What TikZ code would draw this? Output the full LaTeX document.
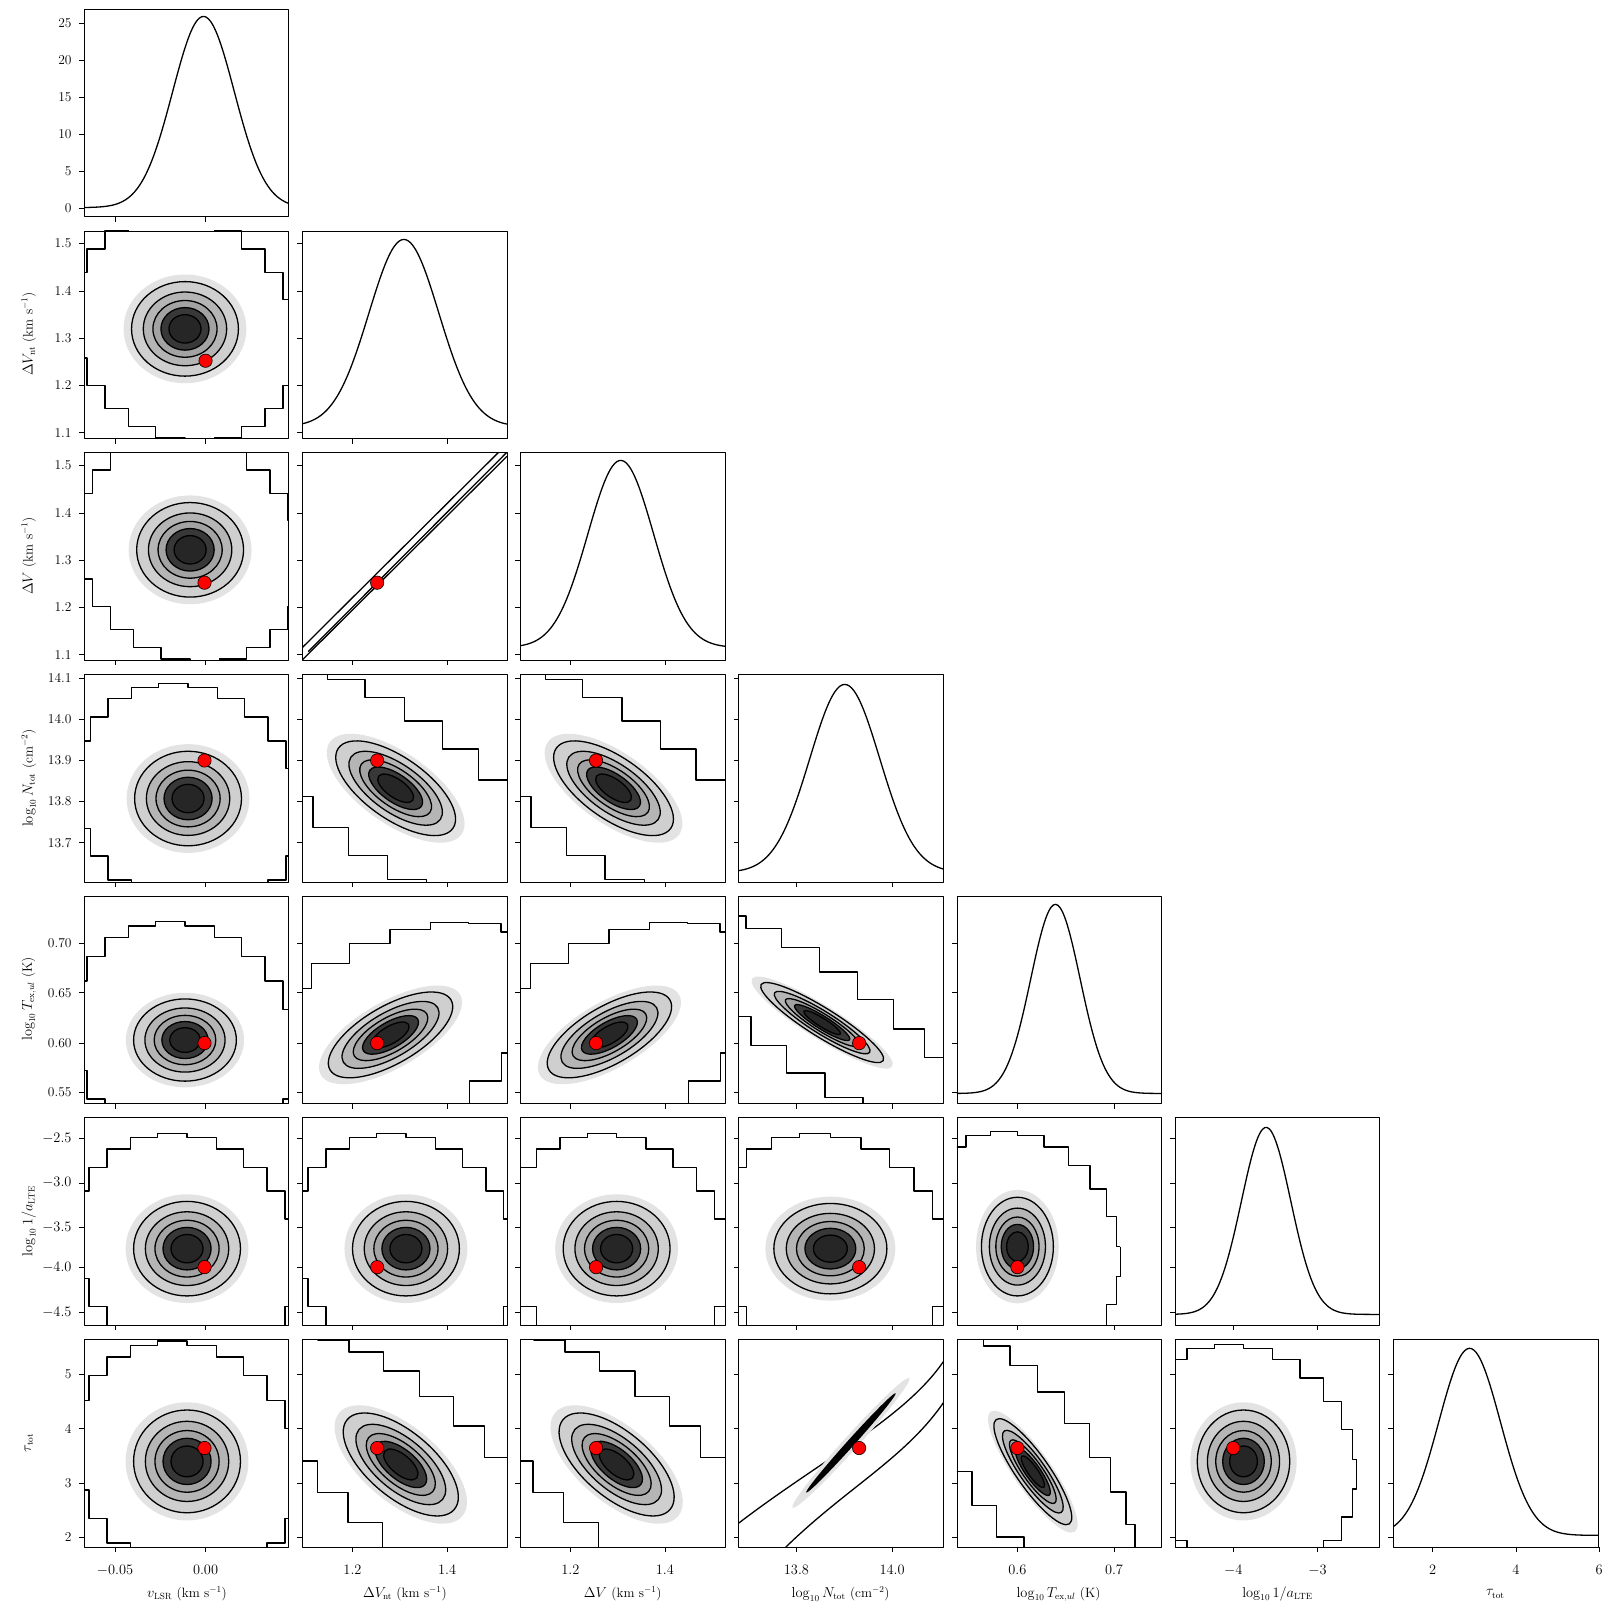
\documentclass[tikz,border=0pt]{standalone}
\begin{document}
\begin{tikzpicture}[x=1pt,y=-1pt,scale=1.0277,line join=round]
\tikzset{cline/.style={black,line width=1.3pt},lab/.style={font=\fontsize{13.5}{16}\selectfont}}
\newcommand\blob[5]{%
\begin{scope}[shift={(#1,#2)},rotate={-#5}]
\fill[gray!22] (0,0) ellipse[x radius={1.15*#3 pt},y radius={1.15*#4 pt}];
\filldraw[cline,fill=gray!38] (0,0) ellipse[x radius={#3 pt},y radius={#4 pt}];
\filldraw[cline,fill=gray!58] (0,0) ellipse[x radius={0.78*#3 pt},y radius={0.78*#4 pt}];
\filldraw[cline,fill=gray!72] (0,0) ellipse[x radius={0.6*#3 pt},y radius={0.6*#4 pt}];
\filldraw[cline,fill=black!78] (0,0) ellipse[x radius={0.45*#3 pt},y radius={0.45*#4 pt}];
\filldraw[cline,fill=black!85] (0,0) ellipse[x radius={0.3*#3 pt},y radius={0.3*#4 pt}];
\end{scope}}
\newcommand\stair[7]{%
\pgfmathsetmacro\xl{82+212.3*#1}\pgfmathsetmacro\yt{9+215.7*#2}
\begin{scope}
\clip (\xl,\yt) rectangle ++(199,202);
\draw[cline] ({#3+#5*cos(#7)},{#4+#5*sin(#7)}) \foreach \a in {15,30,...,360}{ |- ({#3+#5*cos(\a)*cos(#7)-#6*sin(\a)*sin(#7)},{#4+#5*cos(\a)*sin(#7)+#6*sin(\a)*cos(#7)}) };
\end{scope}}
\newcommand\hist[5]{%
\draw[cline] plot[domain=#5:#5+199,samples=90,smooth] (\x,{#2-#3*exp(-0.5*((\x-#1)/#4)^2)});}
\newcommand\dotr[2]{\filldraw[fill=red,draw=black,line width=0.6pt] (#1,#2) circle[radius=6.5pt];}
% frames
\foreach \j in {0,...,6}{\foreach \i in {0,...,\j}{
 \pgfmathsetmacro\xl{82+212.3*\i}\pgfmathsetmacro\yt{9+215.7*\j}
 \draw[line width=0.7pt] (\xl,\yt) rectangle ++(199,202);}}
% column ticks
\foreach \c/\xs in {0/{112,200},1/{343,435},2/{555,647},3/{775,868},4/{990,1084},5/{1200,1282},6/{1394,1475,1556}}{
 \foreach \j in {\c,...,6}{\pgfmathsetmacro\yb{211+215.7*\j}
 \foreach \x in \xs {\draw[line width=0.6pt] (\x,\yb) -- ++(0,5);}}}
% row ticks
\foreach \r/\ys in {0/{23,59,95,131,167,203},1/{237,283,329,375,421},2/{453,499,545,591,637},3/{660,700,740,780,820},4/{918,966,1015,1063},5/{1108,1151,1194,1233,1277},6/{1337,1390,1443,1496}}{
 \foreach \i in {0,...,\r}{\pgfmathsetmacro\xl{82+212.3*\i}
 \foreach \y in \ys {\draw[line width=0.6pt] (\xl,\y) -- ++(-5,0);}}}
% tick labels
\foreach \x/\t in {112/$-0.05$,200/$0.00$,343/$1.2$,435/$1.4$,555/$1.2$,647/$1.4$,775/$13.8$,868/$14.0$,990/$0.6$,1084/$0.7$,1200/$-4$,1282/$-3$,1394/$2$,1475/$4$,1556/$6$}
 \node[lab] at (\x,1528) {\t};
\foreach \y/\t in {23/25,59/20,95/15,131/10,167/5,203/0,237/1.5,283/1.4,329/1.3,375/1.2,421/1.1,453/1.5,499/1.4,545/1.3,591/1.2,637/1.1,660/14.1,700/14.0,740/13.9,780/13.8,820/13.7,918/0.70,966/0.65,1015/0.60,1063/0.55,1108/$-2.5$,1151/$-3.0$,1194/$-3.5$,1233/$-4.0$,1277/$-4.5$,1337/5,1390/4,1443/3,1496/2}
 \node[lab,anchor=east] at (73,\y) {\t};
% axis labels
\foreach \x/\t in {182/{$v_{\rm LSR}$ (km s$^{-1}$)},394/{$\Delta V_{\rm nt}$ (km s$^{-1}$)},606/{$\Delta V$ (km s$^{-1}$)},818/{$\log_{10} N_{\rm tot}$ (cm$^{-2}$)},1030/{$\log_{10} T_{{\rm ex},ul}$ (K)},1243/{$\log_{10} 1/a_{\rm LTE}$},1455/{$\tau_{\rm tot}$}}
 \node[lab] at (\x,1551) {\t};
\foreach \y/\t in {325/{$\Delta V_{\rm nt}$ (km s$^{-1}$)},541/{$\Delta V$ (km s$^{-1}$)},757/{$\log_{10} N_{\rm tot}$ (cm$^{-2}$)},972/{$\log_{10} T_{{\rm ex},ul}$ (K)},1188/{$\log_{10} 1/a_{\rm LTE}$},1404/{$\tau_{\rm tot}$}}
 \node[lab,rotate=90] at (28,\y) {\t};
% histograms
\hist{198}{202}{186}{30}{82}
\hist{393}{415}{182}{34}{294.3}
\hist{604}{630}{182}{32}{506.6}
\hist{822}{849}{183}{34}{718.9}
\hist{1027}{1064}{184}{24}{931.2}
\hist{1232}{1279}{182}{24}{1143.5}
\hist{1430}{1494}{182}{30}{1355.8}
% stairs
\stair{0}{1}{180}{320}{110}{110}{0}
\stair{0}{2}{185}{535}{110}{110}{0}
\stair{0}{3}{183}{777}{110}{112}{0}
\stair{1}{3}{385}{767}{170}{80}{35}
\stair{2}{3}{597}{767}{170}{80}{35}
\stair{0}{4}{180}{1012}{110}{115}{0}
\stair{1}{4}{380}{1007}{170}{80}{-30}
\stair{2}{4}{593}{1007}{170}{80}{-30}
\stair{3}{4}{800}{995}{170}{60}{35}
\stair{0}{5}{182}{1215}{110}{112}{0}
\stair{1}{5}{395}{1215}{110}{112}{0}
\stair{2}{5}{600}{1215}{110}{112}{0}
\stair{3}{5}{808}{1215}{115}{112}{0}
\stair{4}{5}{990}{1213}{100}{112}{0}
\stair{0}{6}{182}{1420}{110}{115}{0}
\stair{1}{6}{390}{1420}{160}{80}{40}
\stair{2}{6}{600}{1420}{160}{80}{40}
\stair{4}{6}{1003}{1425}{150}{70}{55}
\stair{5}{6}{1210}{1420}{110}{112}{0}
% blobs
\blob{180}{320}{52}{46}{0}
\blob{185}{535}{52}{46}{0}
\blob{183}{777}{52}{46}{0}
\blob{385}{767}{68}{30}{35}
\blob{597}{767}{68}{30}{35}
\blob{180}{1012}{50}{40}{0}
\blob{380}{1007}{68}{28}{-30}
\blob{593}{1007}{68}{28}{-30}
\blob{800}{995}{70}{14}{32}
\blob{182}{1215}{52}{46}{0}
\blob{395}{1215}{52}{46}{0}
\blob{600}{1215}{52}{46}{0}
\blob{808}{1215}{55}{44}{0}
\blob{990}{1213}{35}{48}{0}
\blob{182}{1422}{52}{50}{0}
\blob{390}{1425}{68}{32}{40}
\blob{600}{1425}{68}{32}{40}
\blob{1005}{1432}{62}{16}{55}
\blob{1210}{1422}{45}{50}{0}
% special panels
\begin{scope}
\clip (294.3,440.4) rectangle ++(199,202);
\draw[cline] (294.3,630) -- (493.3,432);
\draw[cline] (294.3,642) -- (493.3,444);
\draw[cline] (300,634) -- (493.3,440);
\end{scope}
\begin{scope}
\clip (718.9,1303.2) rectangle ++(199,202);
\draw[cline] (718.9,1482) .. controls (800,1420) and (880,1380) .. (917.9,1325);
\draw[cline] (760,1510) .. controls (820,1450) and (880,1420) .. (917.9,1365);
\begin{scope}[shift={(828,1404)},rotate=48]
\fill[gray!22] (0,0) ellipse[x radius=85pt,y radius=7pt];
\fill[black] (0,0) ellipse[x radius=65pt,y radius=3.5pt];
\end{scope}
\end{scope}
% truth dots
\dotr{200}{351}
\dotr{199}{567}\dotr{367}{567}
\dotr{199}{740}\dotr{367}{740}\dotr{580}{740}
\dotr{199}{1015}\dotr{367}{1015}\dotr{580}{1015}\dotr{836}{1015}
\dotr{199}{1233}\dotr{367}{1233}\dotr{580}{1233}\dotr{836}{1233}\dotr{990}{1233}
\dotr{199}{1409}\dotr{367}{1409}\dotr{580}{1409}\dotr{836}{1409}\dotr{990}{1409}\dotr{1200}{1409}
\pgfresetboundingbox
\path[use as bounding box] (0,0) rectangle (1567.6,1567.6);
\end{tikzpicture}
\end{document}
